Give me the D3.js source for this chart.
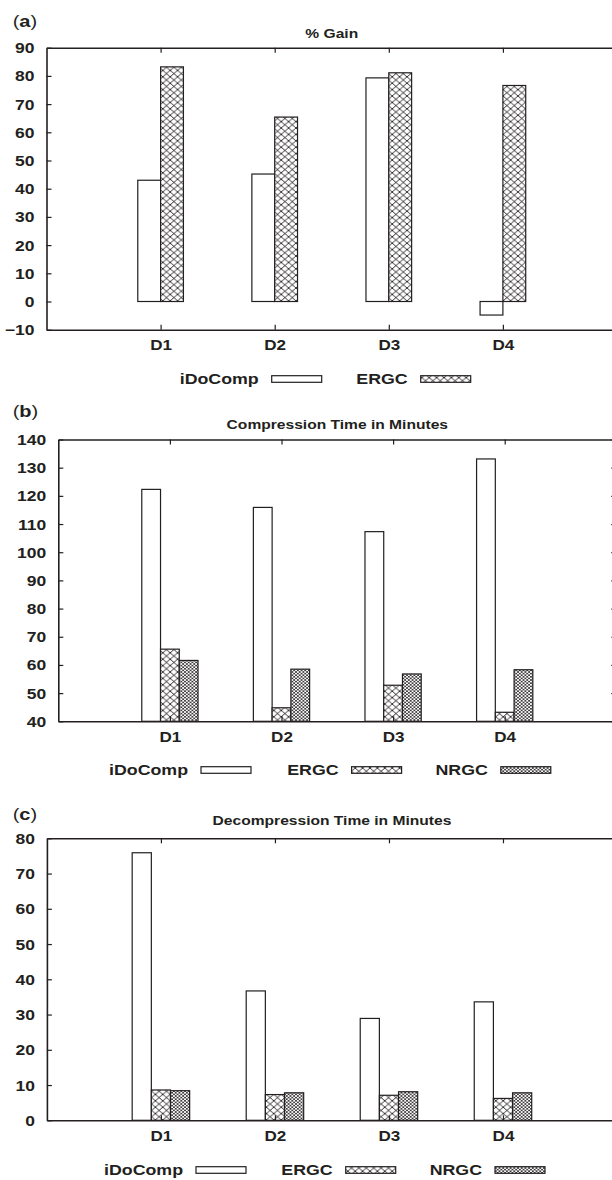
<!DOCTYPE html>
<head>
  <meta charset="utf-8">
  <script src="https://cdn.jsdelivr.net/npm/d3@7"></script>
  <style>
    body { margin:0; background:#fff; }
    svg text { font-family: "Liberation Sans", Arial, sans-serif; font-weight: bold; fill: #231f20; }
  </style>
</head>
<body>
<script>
// data
const categories = ["D1", "D2", "D3", "D4"];
const seriesNames = ["iDoComp", "ERGC", "NRGC"];

const gainIDoComp = [43.0, 45.2, 79.3, -4.8];
const gainERGC    = [83.2, 65.4, 81.1, 76.6];

const compIDoComp = [122.3, 115.9, 107.3, 133.1];
const compERGC    = [65.6, 44.8, 52.8, 43.2];
const compNRGC    = [61.6, 58.5, 56.8, 58.3];

const decIDoComp = [75.9, 36.7, 28.9, 33.6];
const decERGC    = [8.6, 7.3, 7.1, 6.2];
const decNRGC    = [8.4, 7.8, 8.1, 7.8];

const gainTicks   = [-10, 0, 10, 20, 30, 40, 50, 60, 70, 80, 90];
const compTicks   = [40, 50, 60, 70, 80, 90, 100, 110, 120, 130, 140];
const decompTicks = [0, 10, 20, 30, 40, 50, 60, 70, 80];

const ink = "#231f20";
const width = 612, height = 1180;

const svg = d3.select("body").append("svg")
  .attr("width", width)
  .attr("height", height);

// hatch patterns
const defs = svg.append("defs");
function hatch(id, w, h, sw) {
  const p = defs.append("pattern").attr("id", id)
    .attr("patternUnits", "userSpaceOnUse")
    .attr("width", w).attr("height", h);
  p.append("rect").attr("width", w).attr("height", h).attr("fill", "#fff");
  p.append("path")
    .attr("d", `M${-w*0.2},${-h*0.2}L${w*1.2},${h*1.2}M${w*1.2},${-h*0.2}L${-w*0.2},${h*1.2}`)
    .attr("stroke", ink).attr("stroke-width", sw).attr("fill", "none");
}
hatch("ergc", 7.4, 6.4, 0.9);
hatch("nrgc", 3.7, 3.2, 0.75);

const fills = { iDoComp: "#fff", ERGC: "url(#ergc)", NRGC: "url(#nrgc)" };

const panels = [
  { tag: "a", title: "% Gain", domain: [-10, 90], ticks: gainTicks,
    left: 46.5, right: 617, top: 47.7, bottom: 329.7, barW: 0.2,
    labelY: 27, titleY: 38, legendY: 379, swatches: [271.7, 420.7],
    values: [gainIDoComp, gainERGC] },
  { tag: "b", title: "Compression Time in Minutes", domain: [40, 140], ticks: compTicks,
    left: 58.3, right: 616.3, top: 439.5, bottom: 721.3, barW: 0.168,
    labelY: 417, titleY: 428.5, legendY: 770, swatches: [201, 351.6, 500.8],
    values: [compIDoComp, compERGC, compNRGC] },
  { tag: "c", title: "Decompression Time in Minutes", domain: [0, 80], ticks: decompTicks,
    left: 46.9, right: 617, top: 838.3, bottom: 1120.3, barW: 0.168,
    labelY: 820, titleY: 825, legendY: 1170, swatches: [196, 345.7, 495],
    values: [decIDoComp, decERGC, decNRGC] }
];

panels.forEach(drawPanel);

function drawPanel(p) {
  const g = svg.append("g");
  const x = d3.scaleLinear().domain([0, categories.length + 1]).range([p.left, p.right]);
  const y = d3.scaleLinear().domain(p.domain).range([p.bottom, p.top]);
  const n = p.values.length;
  const base = y(Math.max(0, p.domain[0]));
  const bw = x(p.barW) - x(0);

  p.values.forEach((vals, j) => {
    g.selectAll(null)
      .data(vals)
      .enter().append("rect")
      .attr("x", (d, i) => x(i + 1 + (j - n / 2) * p.barW))
      .attr("width", bw)
      .attr("y", d => Math.min(y(d), base))
      .attr("height", d => Math.abs(y(d) - base))
      .attr("fill", fills[seriesNames[j]])
      .attr("stroke", ink)
      .attr("stroke-width", 1.2);
  });

  const catTicks = categories.map((c, i) => i + 1);

  const gl = g.append("g").attr("transform", `translate(${p.left},0)`)
    .call(d3.axisLeft(y).tickValues(p.ticks).tickSizeInner(-5).tickSizeOuter(0).tickPadding(12));
  gl.selectAll("text")
    .attr("x", null).attr("dy", null)
    .attr("transform", "translate(-12,5) scale(1.25,1)");

  g.append("g").attr("transform", `translate(${p.right},0)`)
    .call(d3.axisRight(y).tickValues(p.ticks).tickFormat("").tickSizeInner(-5).tickSizeOuter(0));

  g.append("g").attr("transform", `translate(0,${p.top})`)
    .call(d3.axisTop(x).tickValues(catTicks).tickFormat("").tickSizeInner(-5).tickSizeOuter(0));

  const gb = g.append("g").attr("transform", `translate(0,${p.bottom})`)
    .call(d3.axisBottom(x).tickValues(catTicks).tickFormat(i => categories[i - 1])
      .tickSizeInner(-5).tickSizeOuter(0));
  gb.selectAll("text")
    .attr("y", null).attr("dy", null)
    .attr("transform", "translate(0,20.5) scale(1.22,1)");

  g.selectAll(".domain").attr("stroke", ink).attr("stroke-width", 1.6);
  g.selectAll(".tick line").attr("stroke", ink).attr("stroke-width", 1.2);
  g.selectAll(".tick text").attr("fill", ink);
  g.selectAll("g").filter(function() { return this.getAttribute("font-size"); })
    .attr("font-size", 14).attr("font-family", null);

  // title
  g.append("text")
    .attr("transform", `translate(${(p.left + p.right) / 2},${p.titleY}) scale(1.2,1)`)
    .attr("text-anchor", "middle")
    .attr("font-size", 13)
    .text(p.title);

  // panel tag like (a)
  const tag = g.append("text")
    .attr("transform", `translate(12.7,${p.labelY}) scale(1.25,1)`)
    .attr("font-size", 16);
  tag.append("tspan").attr("font-weight", "normal").text("(");
  tag.append("tspan").text(p.tag);
  tag.append("tspan").attr("font-weight", "normal").text(")");

  // legend
  p.values.forEach((vals, j) => {
    const sx = p.swatches[j];
    g.append("text")
      .attr("transform", `translate(${sx - 13},${p.legendY + 5}) scale(1.27,1)`)
      .attr("text-anchor", "end")
      .attr("font-size", 14)
      .text(seriesNames[j]);
    g.append("rect")
      .attr("x", sx).attr("y", p.legendY - 3.3)
      .attr("width", 50).attr("height", 6.6)
      .attr("fill", fills[seriesNames[j]])
      .attr("stroke", ink)
      .attr("stroke-width", 1.2);
  });
}
</script>
</body>
